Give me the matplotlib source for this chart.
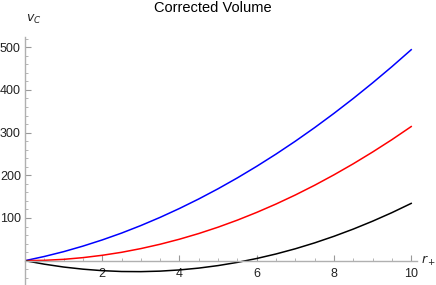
import numpy as np
import matplotlib
matplotlib.use("Agg")
import matplotlib.pyplot as plt
from matplotlib.ticker import MultipleLocator

plt.rcParams['font.family'] = ['Liberation Sans', 'DejaVu Sans']

# values
r_plus = [0, 0.5, 1, 1.5, 2, 2.5, 3, 3.5, 4, 4.5, 5,
          5.5, 6, 6.5, 7, 7.5, 8, 8.5, 9, 9.5, 10]
v_blue = [0, 9.8, 21.1, 34.1, 48.6, 64.6, 82.3, 101.5, 122.3, 144.6, 168.5,
          194.0, 221.1, 249.7, 279.9, 311.7, 345.1, 380.0, 416.5, 454.5, 494.2]
v_red = [0, 0.8, 3.1, 7.1, 12.6, 19.6, 28.3, 38.5, 50.3, 63.6, 78.5,
         95.0, 113.1, 132.7, 153.9, 176.7, 201.1, 227.0, 254.5, 283.5, 314.2]
v_black = [0, -8.2, -14.9, -19.9, -23.4, -25.4, -25.7, -24.5, -21.7, -17.4, -11.5,
           -4.0, 5.1, 15.7, 27.9, 41.7, 57.1, 74.0, 92.5, 112.5, 134.2]

W, H = 436, 285
fig = plt.figure(figsize=(W / 100, H / 100), dpi=100)
ax = fig.add_axes([25 / W, 0, (417 - 25) / W, (285 - 37) / H])

ax.plot(r_plus, v_blue, color='blue', lw=1.1)
ax.plot(r_plus, v_red, color='red', lw=1.1)
ax.plot(r_plus, v_black, color='black', lw=1.1)

ax.set_xlim(0, 10.15)
ax.set_ylim(-57, 524)

# axes through the origin, Mathematica style
for s in ['top', 'right']:
    ax.spines[s].set_visible(False)
ax.spines['left'].set_position(('data', 0))
ax.spines['bottom'].set_position(('data', 0))
for s in ['left', 'bottom']:
    ax.spines[s].set_color('#b0b0b0')
    ax.spines[s].set_linewidth(1.0)
ax.set_zorder(1)

ax.xaxis.set_major_locator(MultipleLocator(2))
ax.xaxis.set_minor_locator(MultipleLocator(0.5))
ax.yaxis.set_major_locator(MultipleLocator(100))
ax.yaxis.set_minor_locator(MultipleLocator(20))
ax.set_xticks([2, 4, 6, 8, 10])
ax.set_yticks([100, 200, 300, 400, 500])
ax.tick_params(which='major', direction='in', length=4, width=0.8,
               color='#999999', labelsize=9, labelcolor='#222222', pad=3)
ax.tick_params(which='minor', direction='in', length=2.2, width=0.6,
               color='#aaaaaa')
ax.tick_params(axis='x', which='major', pad=5)

fig.text(26 / W, 1 - 19 / H, r'$v_C$', fontsize=9, ha='left', va='center',
         color='#222222')
fig.text(421 / W, 1 - 261 / H, r'$r_+$', fontsize=9, ha='left', va='center',
         color='#222222')
fig.text(213 / W, 1 - 8 / H, 'Corrected Volume', fontsize=10.5,
         ha='center', va='center', color='black')

fig.savefig('out.png', dpi=100)
